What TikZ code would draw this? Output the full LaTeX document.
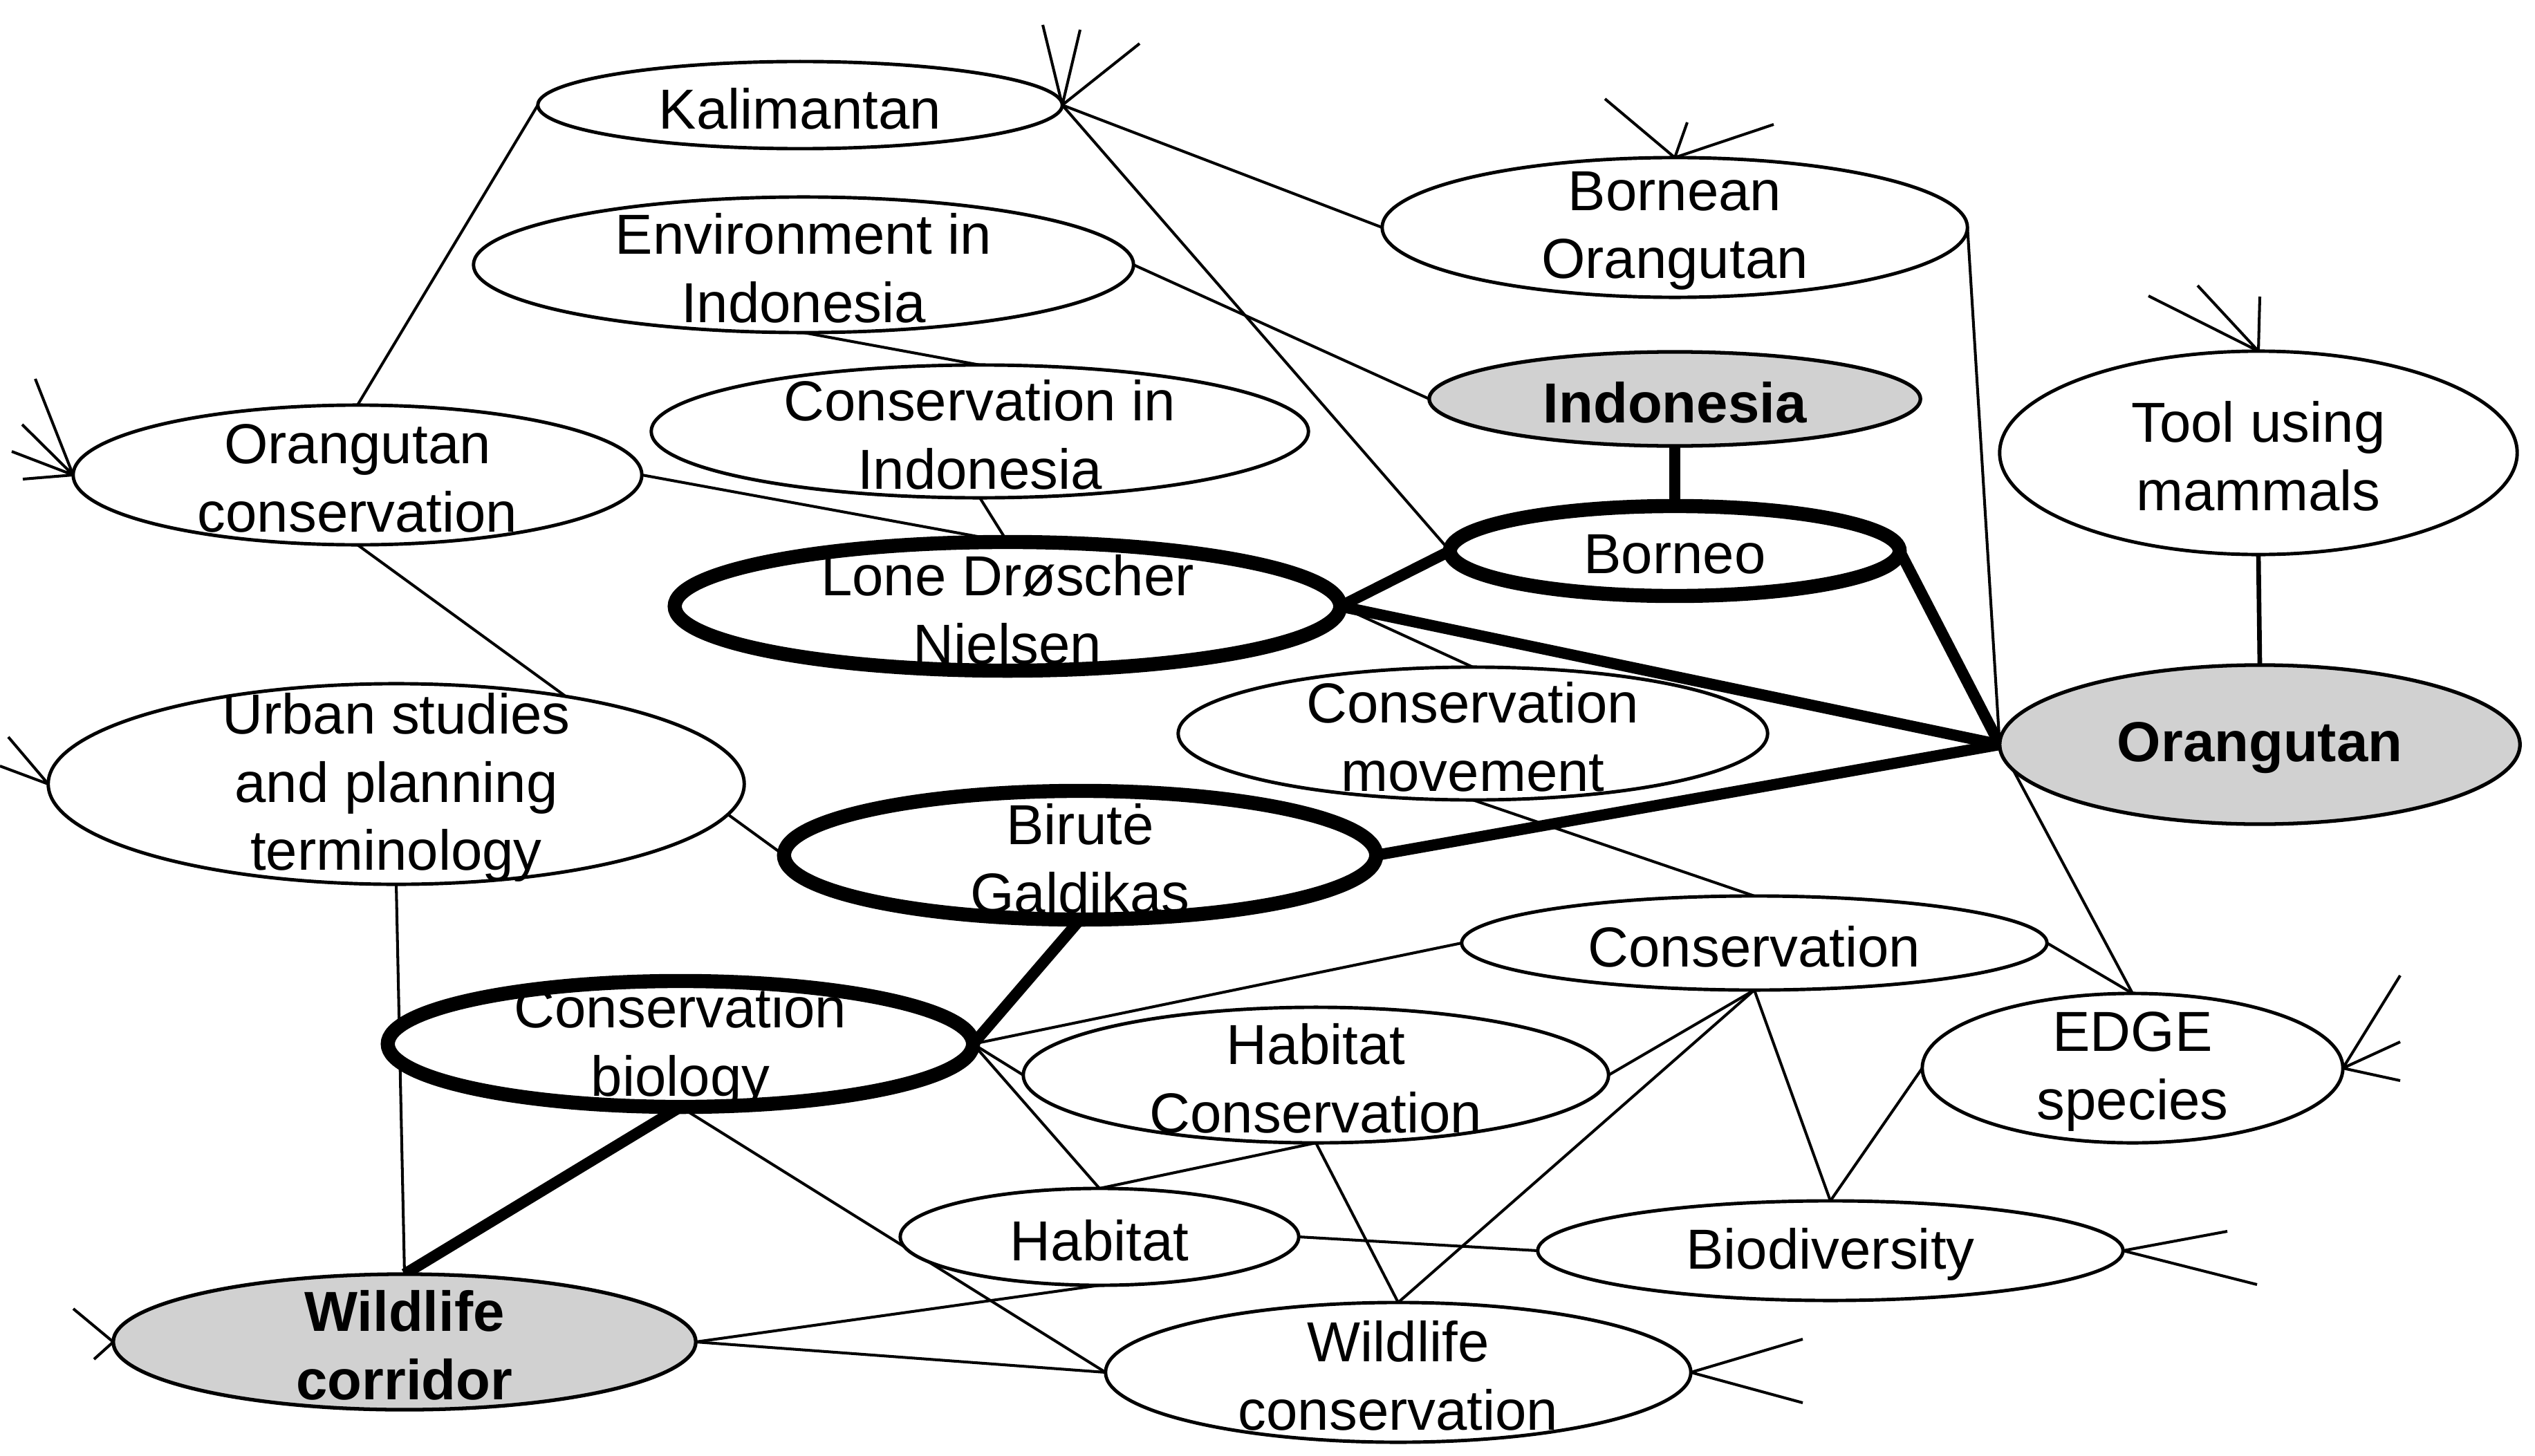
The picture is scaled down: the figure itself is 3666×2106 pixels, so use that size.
\documentclass[tikz,border=0pt]{standalone}
\usepackage{fontspec}
\setmainfont{Liberation Sans}
\usetikzlibrary{shapes.geometric}
\pgfdeclarelayer{bg}
\pgfsetlayers{bg,main}
\begin{document}
\begin{tikzpicture}[x=0.01cm,y=-0.01cm,
  nd/.style={ellipse,draw,fill=white,inner sep=0pt,outer sep=0pt,line width=1.4pt},
  hl/.style={line width=5.8pt},
  gr/.style={fill=black!18,line width=1.5pt},
  txt/.style={font=\fontsize{23.2}{28}\selectfont,align=center,inner sep=0pt,yshift=-0.05cm},
  bt/.style={font=\fontsize{23.2}{28}\selectfont\bfseries,align=center,inner sep=0pt,yshift=-0.05cm},
  ln/.style={line width=1.15pt},
  tk/.style={line width=4.6pt},
  md/.style={line width=1.9pt},
  fan/.style={line width=1.15pt}]
\useasboundingbox (0,0) rectangle (3666,2106);
\node[nd,minimum width=7.58cm,minimum height=1.26cm,label={[txt]center:Kalimantan}] (kal) at (1157,152) {};
\node[nd,minimum width=8.46cm,minimum height=2.02cm,label={[txt]center:Bornean\\Orangutan}] (born) at (2422,329) {};
\node[nd,minimum width=9.54cm,minimum height=1.96cm,label={[txt]center:Environment in\\Indonesia}] (envi) at (1162,383) {};
\node[nd,gr,minimum width=7.10cm,minimum height=1.36cm,label={[bt]center:Indonesia}] (indo) at (2422,577) {};
\node[nd,minimum width=9.50cm,minimum height=1.92cm,label={[txt]center:Conservation in\\Indonesia}] (consind) at (1417,624) {};
\node[nd,minimum width=7.48cm,minimum height=2.94cm,label={[txt]center:Tool using\\mammals}] (tool) at (3266,655) {};
\node[nd,minimum width=8.22cm,minimum height=2.02cm,label={[txt]center:Orangutan\\conservation}] (orcons) at (517,687) {};
\node[nd,hl,minimum width=6.50cm,minimum height=1.30cm,label={[txt]center:Borneo}] (borneo) at (2422,797) {};
\node[nd,hl,minimum width=9.62cm,minimum height=1.86cm,label={[txt]center:Lone Drøscher\\Nielsen}] (lone) at (1457,877) {};
\node[nd,gr,minimum width=7.52cm,minimum height=2.30cm,label={[bt]center:Orangutan}] (orang) at (3268,1077) {};
\node[nd,minimum width=8.52cm,minimum height=1.92cm,label={[txt]center:Conservation\\movement}] (consmov) at (2130,1061) {};
\node[nd,minimum width=10.06cm,minimum height=2.90cm,label={[txt]center:Urban studies\\and planning\\terminology}] (urban) at (573,1134) {};
\node[nd,hl,minimum width=8.56cm,minimum height=1.86cm,label={[txt]center:Birutė\\Galdikas}] (biru) at (1562,1237) {};
\node[nd,minimum width=8.46cm,minimum height=1.36cm,label={[txt]center:Conservation}] (cons) at (2537,1364) {};
\node[nd,hl,minimum width=8.46cm,minimum height=1.82cm,label={[txt]center:Conservation\\biology}] (consbio) at (984,1510) {};
\node[nd,minimum width=6.08cm,minimum height=2.16cm,label={[txt]center:EDGE\\species}] (edge) at (3084,1545) {};
\node[nd,minimum width=8.46cm,minimum height=1.96cm,label={[txt]center:Habitat\\Conservation}] (habcons) at (1903,1555) {};
\node[nd,minimum width=5.76cm,minimum height=1.40cm,label={[txt]center:Habitat}] (hab) at (1590,1789) {};
\node[nd,minimum width=8.46cm,minimum height=1.44cm,label={[txt]center:Biodiversity}] (biod) at (2647,1809) {};
\node[nd,gr,minimum width=8.42cm,minimum height=1.96cm,label={[bt]center:Wildlife\\corridor}] (wcorr) at (585,1941) {};
\node[nd,minimum width=8.46cm,minimum height=2.02cm,label={[txt]center:Wildlife\\conservation}] (wcons) at (2022,1985) {};
% stub coordinates
\coordinate (k1) at (1508,36); \coordinate (k2) at (1562,43); \coordinate (k3) at (1648,63);
\coordinate (b1) at (2321,143); \coordinate (b2) at (2440,177); \coordinate (b3) at (2565,180);
\coordinate (t1) at (3107,428); \coordinate (t2) at (3178,413); \coordinate (t3) at (3268,429);
\coordinate (o1) at (51,548); \coordinate (o2) at (32,614); \coordinate (o3) at (17,653); \coordinate (o4) at (33,693);
\coordinate (u1) at (12,1066); \coordinate (u2) at (0,1108);
\coordinate (e1) at (3471,1411); \coordinate (e2) at (3471,1507); \coordinate (e3) at (3471,1563);
\coordinate (d1) at (3221,1781); \coordinate (d2) at (3264,1858);
\coordinate (w1) at (2607,1937); \coordinate (w2) at (2607,2029);
\coordinate (c1) at (106,1893); \coordinate (c2) at (136,1966);
\begin{pgfonlayer}{bg}
\draw[ln] (kal.east) -- (born.west);
\draw[ln] (kal.east) -- (borneo.west);
\draw[ln] (kal.west) -- (orcons.north);
\draw[ln] (envi.east) -- (indo.west);
\draw[ln] (envi.south) -- (consind.north);
\draw[ln] (consind.south) -- (lone.north);
\draw[ln] (orcons.east) -- (lone.north);
\draw[ln] (orcons.south) -- (biru.west);
\draw[ln] (urban.south) -- (wcorr.north);
\draw[ln] (lone.east) -- (consmov.north);
\draw[ln] (consmov.south) -- (cons.north);
\draw[ln] (born.east) -- (orang.west);
\draw[ln] (orang.west) -- (edge.north);
\draw[md] (tool.south) -- (orang.north);
\draw[ln] (cons.west) -- (consbio.east);
\draw[ln] (cons.east) -- (edge.north);
\draw[ln] (cons.south) -- (biod.north);
\draw[ln] (cons.south) -- (wcons.north);
\draw[ln] (habcons.east) -- (cons.south);
\draw[ln] (habcons.south) -- (wcons.north);
\draw[ln] (hab.north) -- (habcons.south);
\draw[ln] (consbio.east) -- (hab.north);
\draw[ln] (consbio.east) -- (habcons.west);
\draw[ln] (consbio.south) -- (wcons.west);
\draw[ln] (hab.east) -- (biod.west);
\draw[ln] (hab.south) -- (wcorr.east);
\draw[ln] (wcorr.east) -- (wcons.west);
\draw[ln] (edge.west) -- (biod.north);
\draw[tk] (indo.south) -- (borneo.north);
\draw[tk] (borneo.west) -- (lone.east);
\draw[tk] (borneo.east) -- (orang.west);
\draw[tk] (lone.east) -- (orang.west);
\draw[tk] (biru.east) -- (orang.west);
\draw[tk] (biru.south) -- (consbio.east);
\draw[tk] (consbio.south) -- (wcorr.north);
\draw[fan] (kal.east) -- (k1) (kal.east) -- (k2) (kal.east) -- (k3);
\draw[fan] (born.north) -- (b1) (born.north) -- (b2) (born.north) -- (b3);
\draw[fan] (tool.north) -- (t1) (tool.north) -- (t2) (tool.north) -- (t3);
\draw[fan] (orcons.west) -- (o1) (orcons.west) -- (o2) (orcons.west) -- (o3) (orcons.west) -- (o4);
\draw[fan] (urban.west) -- (u1) (urban.west) -- (u2);
\draw[fan] (edge.east) -- (e1) (edge.east) -- (e2) (edge.east) -- (e3);
\draw[fan] (biod.east) -- (d1) (biod.east) -- (d2);
\draw[fan] (wcons.east) -- (w1) (wcons.east) -- (w2);
\draw[fan] (wcorr.west) -- (c1) (wcorr.west) -- (c2);
\end{pgfonlayer}
\end{tikzpicture}
\end{document}
